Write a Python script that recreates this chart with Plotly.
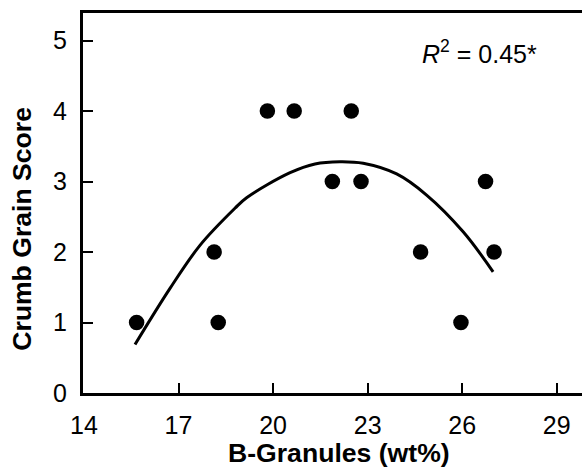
import plotly.graph_objects as go

# Data
b_granules = [15.67, 18.13, 18.26, 19.82, 20.67, 21.88, 22.48, 22.79, 24.68, 25.96, 26.74, 27.01]
crumb_score = [1, 2, 1, 4, 4, 3, 4, 3, 2, 1, 3, 2]

# Fitted quadratic curve
fit_x = [15.62, 16.73, 17.68, 18.79, 19.16, 20.54, 21.33, 22.12, 22.86, 23.92, 24.87, 26.03, 26.98]
fit_y = [0.687, 1.483, 2.094, 2.62, 2.77, 3.125, 3.249, 3.281, 3.259, 3.107, 2.808, 2.287, 1.719]

x_ticks = [14, 17, 20, 23, 26, 29]
y_ticks = [0, 1, 2, 3, 4, 5]

FONT = "Liberation Sans, Arial, Helvetica, sans-serif"

fig = go.Figure()
fig.add_trace(go.Scatter(
    x=fit_x, y=fit_y, mode="lines",
    line=dict(color="black", width=3, shape="spline", smoothing=1.0),
    hoverinfo="skip", showlegend=False,
))
fig.add_trace(go.Scatter(
    x=b_granules, y=crumb_score, mode="markers",
    marker=dict(color="black", size=15.5, line=dict(width=0)),
    showlegend=False,
))

fig.update_layout(
    width=582, height=470,
    margin=dict(l=83, r=10, t=13, b=77),
    paper_bgcolor="white", plot_bgcolor="white",
    font=dict(family=FONT, color="black", size=25),
    xaxis=dict(
        range=[13.97, 29.483], tickvals=x_ticks, ticktext=[str(v) for v in x_ticks],
        ticks="inside", ticklen=10, tickwidth=2, tickcolor="black",
        showline=True, linecolor="black", linewidth=3, mirror=True,
        showgrid=False, zeroline=False, ticklabelstandoff=8,
        tickfont=dict(size=25, family=FONT),
    ),
    yaxis=dict(
        range=[0, 5.39], tickvals=y_ticks, ticktext=[str(v) for v in y_ticks],
        ticks="inside", ticklen=10, tickwidth=2, tickcolor="black",
        showline=True, linecolor="black", linewidth=3, mirror=False,
        showgrid=False, zeroline=False, ticklabelstandoff=8,
        tickfont=dict(size=25, family=FONT),
    ),
    shapes=[
        # continue the frame lines to the right edge of the picture, as in the reference
        dict(type="line", xref="paper", yref="paper", x0=0.99, x1=1.03, y0=-0.004, y1=-0.004,
             line=dict(color="black", width=3), layer="above"),
        dict(type="line", xref="paper", yref="paper", x0=0.99, x1=1.03, y0=1.004, y1=1.004,
             line=dict(color="black", width=3), layer="above"),
    ],
    annotations=[
        dict(text="<i>R</i><sup>2</sup> = 0.45*", x=26.56, y=4.84, xref="x", yref="y",
             showarrow=False, font=dict(size=25, family=FONT), xanchor="center", yanchor="middle"),
        dict(text="<b>B-Granules (wt%)</b>", x=0.5229, y=-0.158, xref="paper", yref="paper",
             showarrow=False, font=dict(size=26.6, family=FONT), xanchor="center", yanchor="middle"),
        dict(text="<b>Crumb Grain Score</b>", x=-0.1235, y=0.431, xref="paper", yref="paper",
             showarrow=False, textangle=-90, font=dict(size=26.6, family=FONT),
             xanchor="center", yanchor="middle"),
    ],
)

fig.write_html(
    "out.html",
    config={"displayModeBar": False},
    post_script=(
        "document.body.style.margin='0';document.body.style.padding='0';"
        "document.body.style.overflow='hidden';"
        "document.documentElement.style.overflow='hidden';"
    ),
)
